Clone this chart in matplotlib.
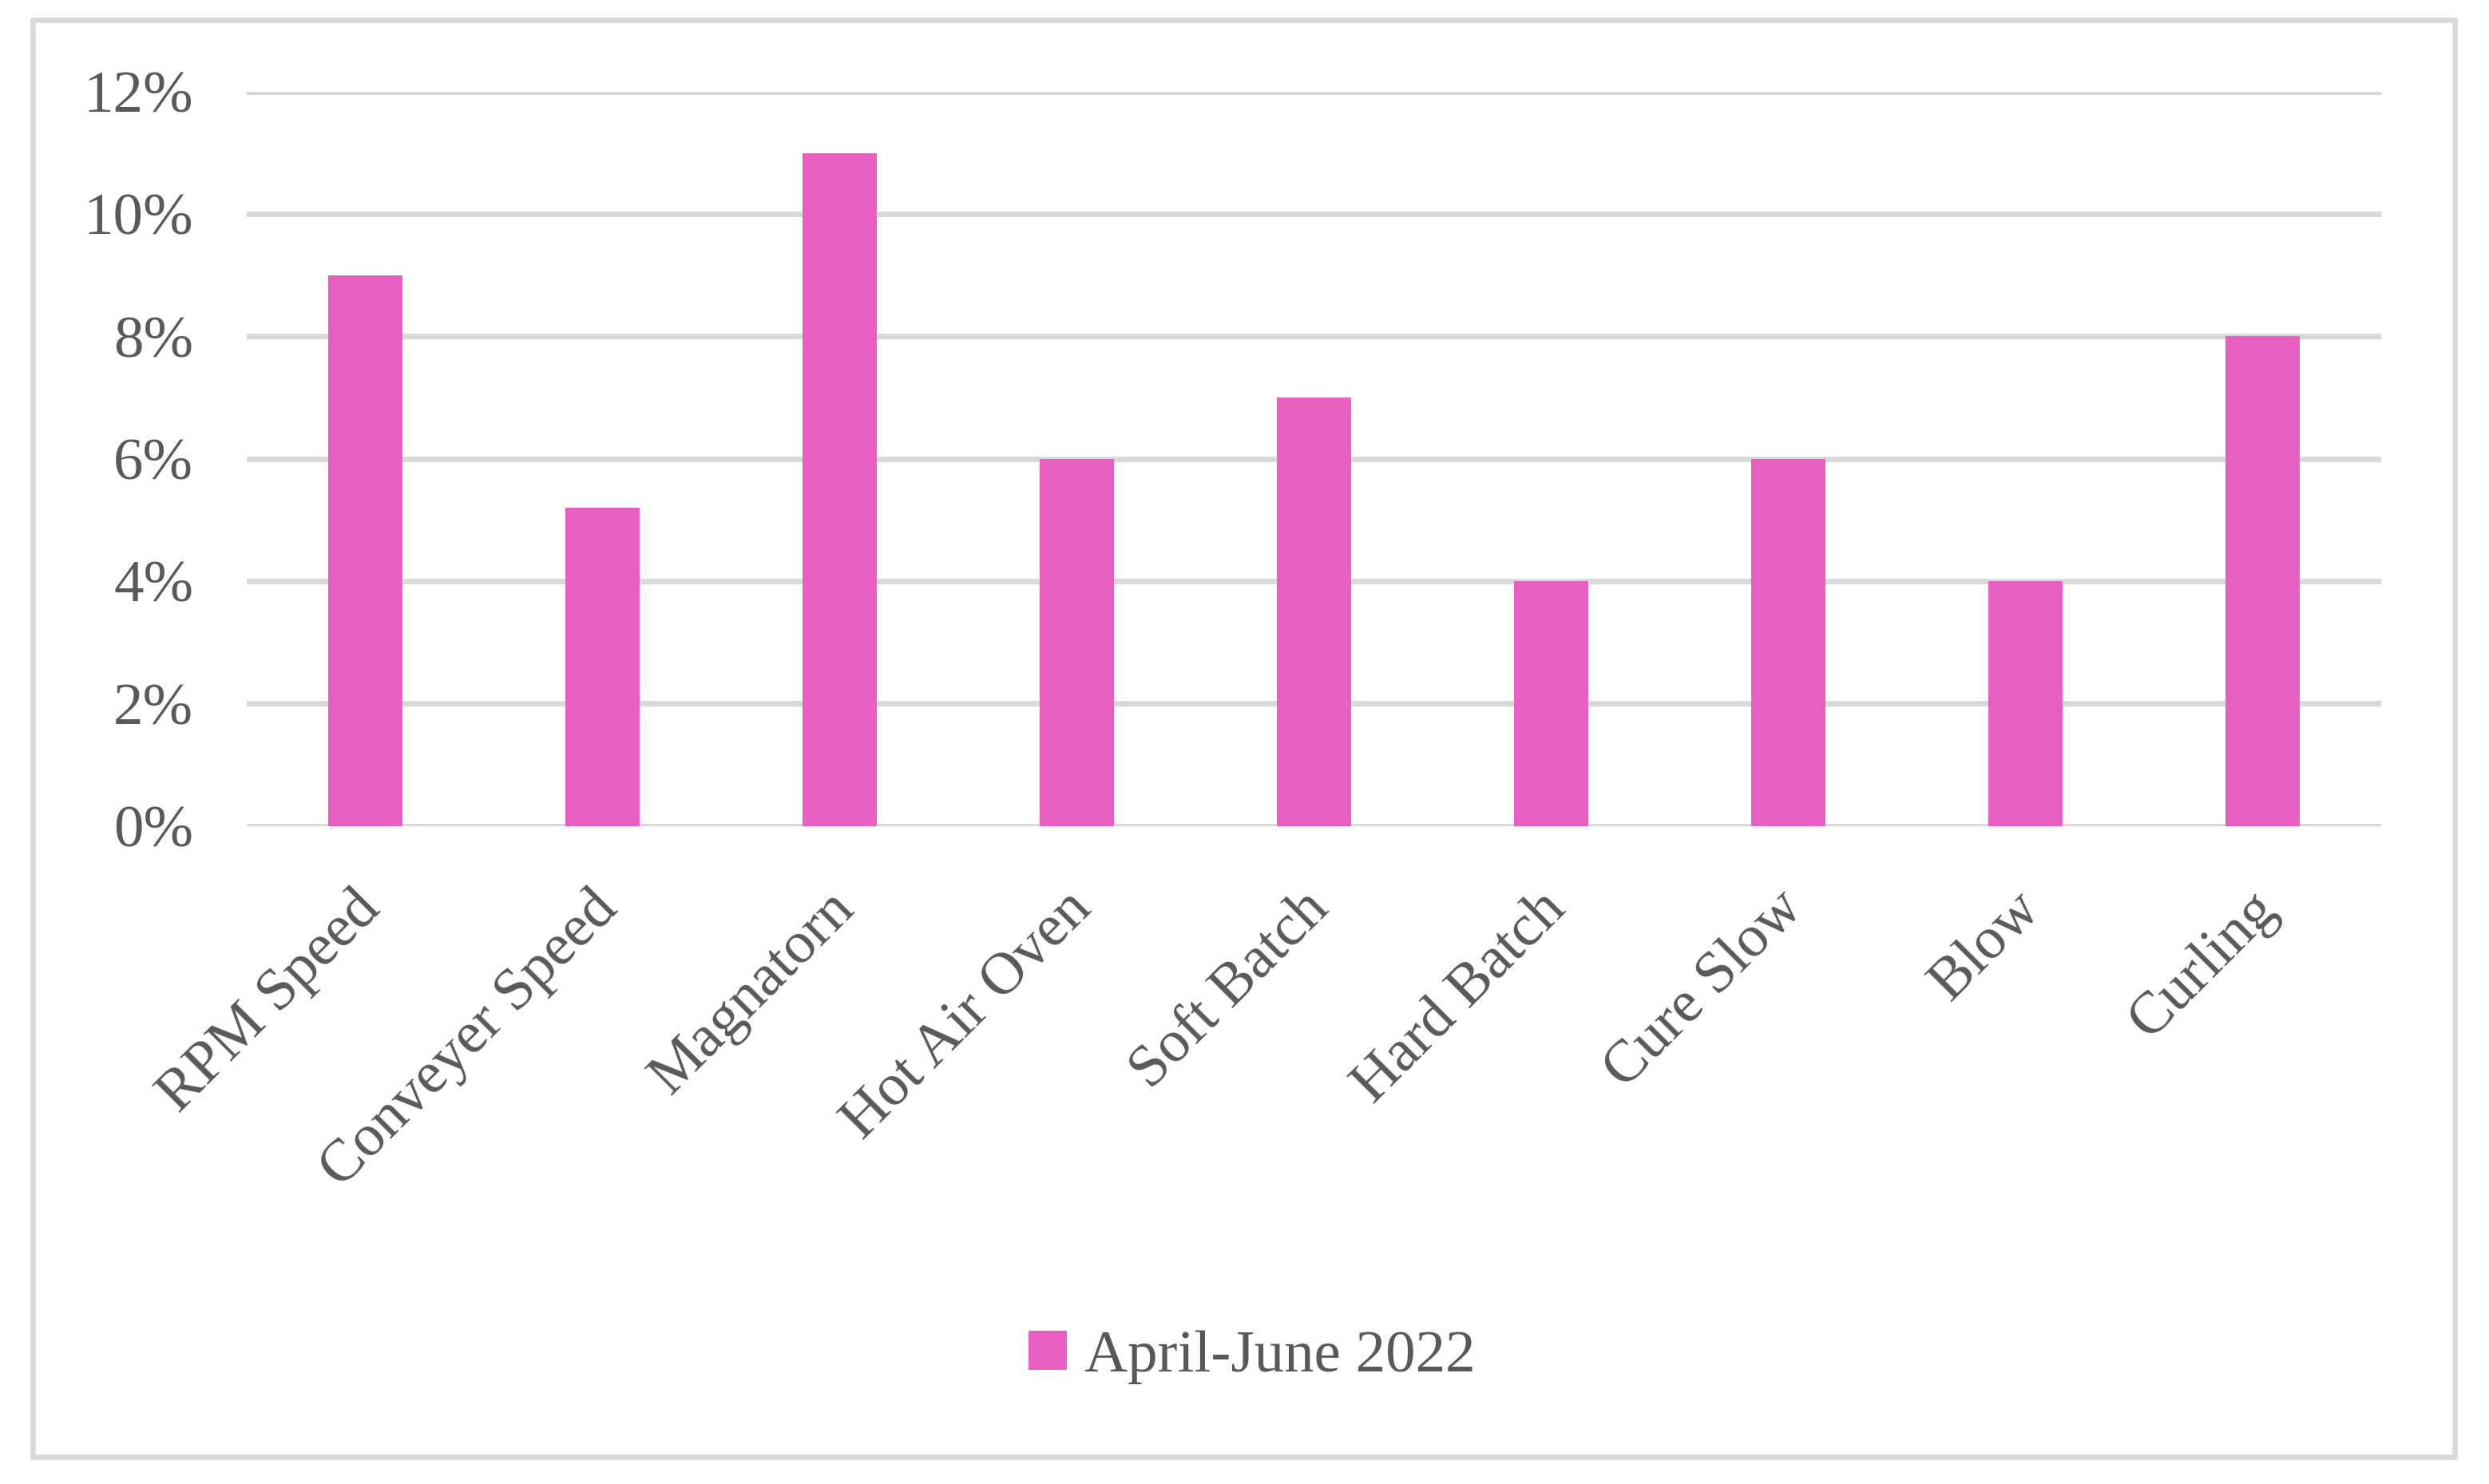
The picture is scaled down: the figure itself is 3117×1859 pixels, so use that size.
import matplotlib
matplotlib.use("Agg")
import matplotlib.pyplot as plt
from matplotlib.patches import Rectangle
from matplotlib.ticker import FuncFormatter
from matplotlib.transforms import ScaledTranslation

categories = ["RPM Speed", "Conveyer Speed", "Magnatorn", "Hot Air Oven", "Soft Batch",
              "Hard Batch", "Cure Slow", "Blow", "Curling"]
values = [0.09, 0.052, 0.11, 0.06, 0.07, 0.04, 0.06, 0.04, 0.08]
series_name = "April-June 2022"
yticks = [0, 0.02, 0.04, 0.06, 0.08, 0.10, 0.12]

plt.rcParams['font.family'] = ['Liberation Serif', 'DejaVu Serif']
W, H = 3117, 1859
fig = plt.figure(figsize=(W/100, H/100), dpi=100)
txt = '#595959'
grid = '#D9D9D9'
pink = '#E75FC1'
fs = 54

ax = fig.add_axes([309/W, 1-1034.5/H, (2982-309)/W, (1034.5-115)/H])
x = list(range(len(categories)))
ax.bar(x, values, width=0.315, color=pink, zorder=3, label=series_name)
ax.set_xlim(-0.5, len(categories)-0.5)
ax.set_ylim(0, 0.12)
ax.set_yticks(yticks)
ax.yaxis.set_major_formatter(FuncFormatter(lambda v, p: f"{v*100:.0f}%"))
ax.grid(axis='y', color=grid, linewidth=5, zorder=0)
ax.set_axisbelow(True)
for s in ax.spines.values():
    s.set_visible(False)
ax.tick_params(axis='both', length=0, labelsize=fs, colors=txt)
ax.tick_params(axis='y', pad=48)
ax.set_xticks(x)
ax.set_xticklabels(categories, rotation=45, ha='right', rotation_mode='anchor')
ax.tick_params(axis='x', pad=50)
off = ScaledTranslation(-0.16, 0, fig.dpi_scale_trans)
for lbl in ax.get_xticklabels():
    lbl.set_transform(lbl.get_transform() + off)

leg = fig.legend(loc='center', bbox_to_anchor=(0.503, 1-1700/H), frameon=False,
                 fontsize=fs, handlelength=0.64, handleheight=0.64, handletextpad=0.3)
for t in leg.get_texts():
    t.set_color(txt)

fig.patches.append(Rectangle((41/W, 1-1825/H), (3074-41)/W, (1825-25)/H,
                             transform=fig.transFigure, fill=False,
                             edgecolor=grid, linewidth=4.7))
fig.savefig("out.png", dpi=100)
